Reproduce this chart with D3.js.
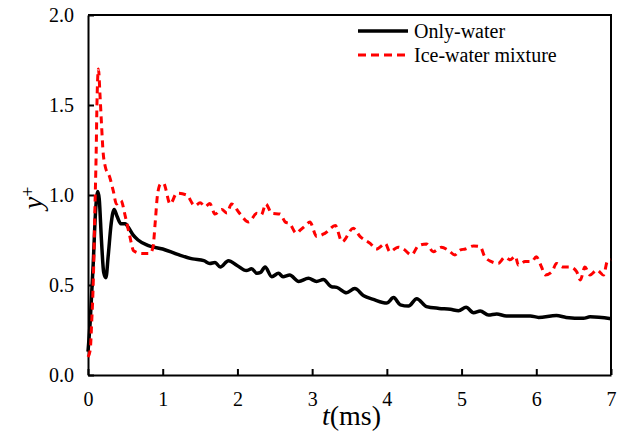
<!DOCTYPE html>
<html><head><meta charset="utf-8"><script src="https://d3js.org/d3.v7.min.js"></script></head>
<body style="margin:0">
<script>
// Only-water
var tOnly = [0, 0.03, 0.07, 0.1, 0.13, 0.15, 0.18, 0.21, 0.24, 0.27, 0.31, 0.35, 0.39, 0.44, 0.5, 0.54, 0.6, 0.67, 0.8, 1.0,
  1.2, 1.4, 1.55, 1.63, 1.7, 1.77, 1.88, 1.99, 2.12, 2.19, 2.26, 2.31, 2.37, 2.46, 2.55, 2.61, 2.7, 2.82, 2.95, 3.06,
  3.15, 3.26, 3.33, 3.46, 3.57, 3.69, 3.82, 4.0, 4.09, 4.18, 4.29, 4.4, 4.53, 4.7, 4.85, 4.96, 5.06, 5.16, 5.25, 5.36,
  5.47, 5.6, 5.92, 6.03, 6.27, 6.4, 6.63, 6.72, 7.0];
var yOnly = [0.13, 0.30, 0.62, 0.90, 1.02, 0.98, 0.75, 0.57, 0.54, 0.66, 0.84, 0.92, 0.88, 0.84, 0.84, 0.82, 0.78, 0.75, 0.72, 0.70,
  0.67, 0.645, 0.635, 0.62, 0.625, 0.60, 0.635, 0.61, 0.58, 0.59, 0.565, 0.57, 0.60, 0.546, 0.565, 0.546, 0.555, 0.52, 0.537, 0.52,
  0.53, 0.49, 0.487, 0.457, 0.48, 0.44, 0.42, 0.40, 0.43, 0.39, 0.383, 0.424, 0.38, 0.37, 0.365, 0.357, 0.376, 0.346, 0.356, 0.333,
  0.339, 0.328, 0.328, 0.32, 0.33, 0.32, 0.315, 0.323, 0.312];

// Ice-water mixture
var tIce = [0, 0.03, 0.05, 0.07, 0.09, 0.11, 0.12, 0.14, 0.16, 0.18, 0.2, 0.23, 0.29, 0.34, 0.38, 0.44, 0.5, 0.56, 0.61, 0.72,
  0.83, 0.87, 0.9, 0.93, 0.97, 1.01, 1.1, 1.19, 1.32, 1.43, 1.5, 1.57, 1.63, 1.7, 1.79, 1.86, 1.92, 2.03, 2.15, 2.26,
  2.32, 2.38, 2.46, 2.57, 2.64, 2.7, 2.79, 2.84, 2.91, 2.97, 3.06, 3.17, 3.31, 3.4, 3.55, 3.64, 3.78, 3.86, 3.98, 4.04,
  4.15, 4.22, 4.33, 4.42, 4.53, 4.62, 4.73, 4.82, 4.91, 4.98, 5.05, 5.16, 5.25, 5.31, 5.4, 5.49, 5.58, 5.65, 5.72, 5.76,
  5.85, 5.94, 6.0, 6.07, 6.12, 6.21, 6.27, 6.36, 6.45, 6.54, 6.59, 6.65, 6.72, 6.81, 6.9, 6.95, 7.0];
var yIce = [0.10, 0.14, 0.30, 0.51, 0.88, 1.25, 1.51, 1.70, 1.56, 1.40, 1.25, 1.16, 1.10, 1.02, 0.95, 0.97, 0.88, 0.77, 0.69, 0.675,
  0.675, 0.71, 0.85, 1.00, 1.06, 1.065, 0.95, 1.01, 1.0, 0.94, 0.957, 0.935, 0.953, 0.894, 0.92, 0.90, 0.95, 0.898, 0.85, 0.898,
  0.89, 0.95, 0.898, 0.894, 0.85, 0.84, 0.787, 0.805, 0.83, 0.85, 0.77, 0.787, 0.83, 0.74, 0.815, 0.77, 0.73, 0.70, 0.73, 0.685,
  0.71, 0.70, 0.667, 0.717, 0.728, 0.685, 0.71, 0.694, 0.667, 0.694, 0.70, 0.717, 0.713, 0.657, 0.63, 0.62, 0.654, 0.64, 0.66, 0.61,
  0.63, 0.63, 0.657, 0.60, 0.556, 0.574, 0.62, 0.60, 0.60, 0.574, 0.528, 0.60, 0.556, 0.583, 0.556, 0.63, 0.64];

var xTicks = [0, 1, 2, 3, 4, 5, 6, 7];
var yTicks = [0, 0.5, 1.0, 1.5, 2.0];
var seriesNames = ["Only-water", "Ice-water mixture"];

var margin = {top: 15, right: 13, bottom: 56, left: 88},
    width = 624 - margin.left - margin.right,
    height = 431 - margin.top - margin.bottom;

var root = d3.select("body").append("svg")
    .attr("width", 624)
    .attr("height", 431);

var svg = root.append("g")
    .attr("transform", "translate(" + margin.left + "," + margin.top + ")");

var x = d3.scaleLinear().domain([0, 7]).range([0, width]);
var y = d3.scaleLinear().domain([0, 2]).range([height, 0]);

// frame (top and right)
svg.append("path")
    .attr("d", "M0,0H" + width + "V" + height)
    .attr("fill", "none")
    .attr("stroke", "#000")
    .attr("stroke-width", 2);

// axes, ticks pointing inward
var xAxis = svg.append("g")
    .attr("transform", "translate(0," + height + ")")
    .call(d3.axisBottom(x).tickValues(xTicks).tickFormat(d3.format("d")).tickSizeInner(-6).tickSizeOuter(0).tickPadding(12));
var yAxis = svg.append("g")
    .call(d3.axisLeft(y).tickValues(yTicks).tickFormat(d3.format(".1f")).tickSizeInner(-6).tickSizeOuter(0).tickPadding(14));

[xAxis, yAxis].forEach(function(a) {
  a.select(".domain").attr("stroke-width", 2);
  a.selectAll(".tick line").attr("stroke-width", 2);
});

var line = d3.line()
    .x(function(d) { return x(d[0]); })
    .y(function(d) { return y(d[1]); })
    .curve(d3.curveMonotoneX);

var dataOnly = tOnly.map(function(t, i) { return [t, yOnly[i]]; });
var dataIce = tIce.map(function(t, i) { return [t, yIce[i]]; });

svg.append("path")
    .datum(dataOnly)
    .attr("fill", "none")
    .attr("stroke", "#000")
    .attr("stroke-width", 3.5)
    .attr("stroke-linejoin", "round")
    .attr("d", line);

svg.append("path")
    .datum(dataIce)
    .attr("fill", "none")
    .attr("stroke", "#ff0000")
    .attr("stroke-width", 3)
    .attr("stroke-dasharray", "7,5")
    .attr("d", line);

// legend
var legend = svg.append("g").attr("transform", "translate(270,16)");
legend.append("line")
    .attr("x1", 0).attr("x2", 50).attr("y1", 0).attr("y2", 0)
    .attr("stroke", "#000").attr("stroke-width", 3.5);
legend.append("line")
    .attr("x1", 0).attr("x2", 50).attr("y1", 24).attr("y2", 24)
    .attr("stroke", "#ff0000").attr("stroke-width", 3).attr("stroke-dasharray", "8,5");
legend.selectAll("text.lg")
    .data(seriesNames)
    .enter().append("text")
    .attr("class", "lg")
    .attr("x", 56)
    .attr("y", function(d, i) { return i * 24 + 7; })
    .text(function(d) { return d; });

// axis titles
var xt = svg.append("text")
    .attr("class", "big")
    .attr("x", width / 2 + 2)
    .attr("y", height + 50)
    .attr("text-anchor", "middle");
xt.append("tspan").style("font-style", "italic").text("t");
xt.append("tspan").text("(ms)");

var yt = svg.append("text")
    .attr("class", "big")
    .attr("transform", "translate(" + (42 - margin.left) + "," + (height / 2 + 3) + ") rotate(-90)")
    .attr("text-anchor", "middle");
yt.append("tspan").style("font-style", "italic").text("y");
yt.append("tspan").attr("dy", "-0.45em").attr("class", "sup").text("+");

// fonts: Times-like serif on every text node
root.selectAll("text")
    .attr("font-family", "Liberation Serif, Times New Roman, serif")
    .style("font-family", "'Liberation Serif', 'Times New Roman', serif")
    .attr("font-size", 20);
xAxis.selectAll(".tick text").attr("dy", "0.95em");
yAxis.selectAll(".tick text").attr("dy", "0.33em");
root.selectAll("text.big").attr("font-size", 28);
root.selectAll("tspan.sup").attr("font-size", 18);
</script>
</body></html>
